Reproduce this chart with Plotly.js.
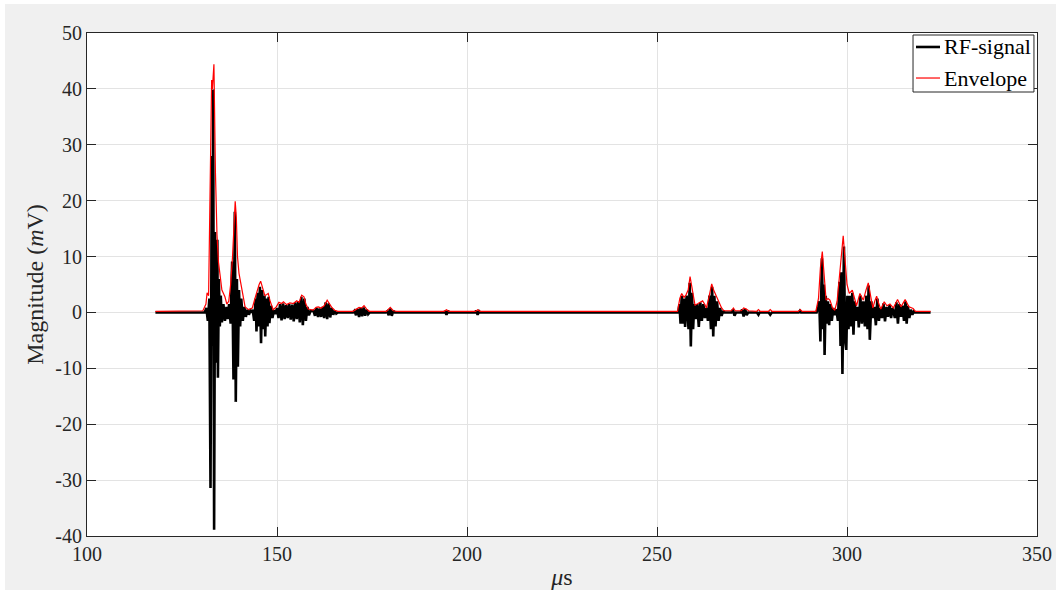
<!DOCTYPE html>
<html>
<head>
<meta charset="utf-8">
<script src="https://cdn.plot.ly/plotly-3.0.1.min.js"></script>
<style>
html,body{margin:0;padding:0;background:#ffffff;}
#chart{position:absolute;left:5px;top:4px;width:1051px;height:586px;}
</style>
</head>
<body>
<div id="chart"></div>
<script>
// ---- data ----
const rfTime = [
118,131.0,131.4,131.8,132.2,132.5,132.85,133.05,133.2,133.45,133.7,133.85,134.0,134.2,134.3,134.45,134.7,134.95,135.2,135.5,135.9,136.3,136.7,137.0,137.4,137.8,138.2,138.55,138.9,139.15,139.45,139.7,140.0,140.3,140.6,141.0,141.4,141.8,142.2,142.6,143.0,143.4,
143.6,144.0,144.4,144.6,144.9,145.2,145.5,145.8,146.1,146.4,146.7,146.9,147.2,147.5,147.8,148.0,148.4,148.8,149.2,149.6,
150.0,150.4,150.8,151.2,151.6,152.0,152.4,152.8,153.2,153.6,154.0,154.4,154.8,155.2,155.6,156.0,156.4,156.8,157.2,157.6,158.0,158.4,158.8,
159.6,160.0,160.4,160.8,161.2,161.6,162.0,162.4,162.8,163.2,163.6,164.0,164.4,164.8,165.2,165.6,166.0,
170.0,170.4,170.8,171.2,171.6,172.0,172.4,172.8,173.2,173.6,174.0,174.4,
178.6,179.0,179.4,179.8,180.2,180.6,181.0,
194.0,194.2,194.6,195.0,195.3,
202.1,202.4,202.8,203.2,203.5,
255.3,255.6,255.9,256.2,256.5,256.8,257.1,257.4,257.8,258.3,258.6,258.9,259.2,259.5,259.8,260.2,260.6,261.0,261.4,261.8,262.2,262.6,263.0,263.4,263.8,264.2,264.5,264.8,265.1,265.4,265.8,266.2,266.6,267.0,267.4,267.8,
269.6,270.0,270.4,270.8,
272.0,272.4,272.8,273.2,273.6,274.0,
276.3,276.7,277.0,
279.4,279.8,280.2,
287.3,287.6,287.9,
292.0,292.4,292.7,293.0,293.4,293.7,293.9,294.1,294.4,294.7,295.0,295.3,295.6,296.0,296.4,296.8,297.2,297.6,298.0,298.3,298.5,298.8,299.2,299.5,299.8,300.1,300.4,300.7,301.0,301.4,301.7,302.0,302.4,302.8,303.1,303.5,303.9,304.3,304.7,305.1,305.4,305.7,306.0,306.4,306.8,307.2,307.6,308.0,308.4,308.8,309.2,309.6,310.0,310.4,310.8,311.2,311.6,312.0,312.6,313.0,313.4,313.8,314.2,314.6,315.0,315.4,315.7,316.0,316.4,316.8,317.2,317.6,318.0,
322.0
];
const rfMag = [
0,0,0.8,-1.5,2.5,-31.4,28,-6,39.9,-38.9,14.4,-9,12,-8,13,-11.7,6,-2.5,3,-1.8,1.5,-1.5,1,-1.2,1.5,-2,9.1,-12,18.0,-16.0,6,-9.7,4,-2.5,2.5,-1.5,1,-0.8,0.5,-0.4,0.3,0,
0.5,-1.5,2.5,-3.4,3.5,-2.5,4.6,-5.5,4,-3,3,-4.3,2.5,-2.5,2.8,-1.9,1.2,-1,0.4,-0.3,
0.8,-1,1.5,-1.4,1.6,-1.2,1.3,-1.0,1.5,-1.3,1.4,-1.6,1.8,-1.2,2.0,-1.8,2.8,-2.3,2.5,-1.5,1,-0.5,0.2,
0.3,-0.6,0.8,-0.8,0.7,-0.8,1.0,-1.0,1.8,-1.2,1.6,-0.9,0.8,-0.4,0.3,-0.2,0,
0,0.3,-0.5,0.6,-0.8,0.8,-0.7,0.9,-0.6,0.5,-0.3,0,
0,0.2,-0.5,0.7,-0.6,0.3,0,
0,0.2,-0.4,0.3,0,
0,0.3,-0.4,0.2,0,
0,0,1.5,-2,3.0,-2,2.5,-2.6,3,-3,5.3,-6.1,3.5,-3,1.5,-1.2,1.5,-2.6,1.8,-1.5,1.5,-1.0,0.8,-1.5,3.0,-3,4.6,-4.3,3,-2.5,2,-1.5,0.8,-0.6,0.3,0,
0,0.5,-0.6,0,
0,0.5,-0.7,0.6,-0.5,0,
0,-0.4,0,
0,-0.4,0,
0,0.3,0,
0,1,2,-5.2,9.7,-3,5,-7.6,3,-2,2,-2.3,1.5,-1.5,0.8,-0.5,0.6,-1.5,5.5,-6,7.2,-11.0,11.8,-5,-6.7,3,-3,3,-2.5,3.5,-4.0,2,-1.5,1,-2.7,3,-2,2,-2.5,3,-3,4.8,-4.9,2,-1,1,-2.3,2.5,-1.5,0.8,-1,1.6,-1.6,1,-0.8,1.3,-1,0.8,-1,1.8,-2.0,1.5,-0.8,1.2,-1.5,2.0,-2.0,1.2,-1,0.5,-0.4,0.2,0,
0
];
const envTime = [
118,130.5,131.3,131.6,132.0,132.4,132.8,133.0,133.4,133.8,134.2,134.6,134.9,135.5,136.3,136.8,137.3,137.8,138.3,138.7,139.0,139.3,139.6,140.0,140.3,141.0,141.6,142.5,
143.5,144.2,144.8,145.3,145.7,146.2,146.8,147.3,147.7,148.2,149.0,
149.8,150.5,151.2,151.7,152.5,153.4,154.3,155.2,155.8,156.5,157.1,157.6,158.2,
159.5,160.3,160.9,161.6,162.4,163.2,163.8,164.4,165.2,166.0,
170.0,170.8,171.6,172.3,172.9,173.6,174.3,
178.8,179.8,180.6,181.5,
194.0,194.6,195.2,202.3,202.8,203.4,
255.4,256.0,256.5,257.1,257.6,258.2,258.7,259.2,259.6,260.0,260.8,262.0,262.6,263.0,263.6,264.0,264.4,264.9,265.6,266.3,267.0,267.6,
269.6,270.1,270.6,272.2,272.8,273.5,274.1,276.2,276.7,277.2,279.3,279.8,280.3,287.2,287.7,288.2,
291.8,292.5,293.0,293.5,294.0,294.5,295.0,295.5,296.2,296.8,297.4,298.0,298.5,299.0,299.5,300.0,300.6,301.4,302.0,302.5,303.4,304.3,305.0,305.6,306.2,306.8,307.3,307.8,308.4,308.9,309.8,310.5,311.3,312.2,313.3,314.2,315.3,316.3,317.4,318.0,
322.0
];
const envMag = [
0.2,0.3,1.5,3.5,3,20,41.6,40,44.4,25,14,9,7,4,2.8,1.5,2,5,10,17,19.9,17,10,7,5.8,3,1,0.5,
0.8,2.5,4,5,5.6,4.5,3,3.2,3.4,2,0.5,
1,1.8,1.6,1.9,1.4,1.7,1.6,2.1,1.8,3.1,2.8,1.5,0.6,
0.4,0.9,1.0,0.8,1.2,2.2,1.5,0.9,0.4,0.2,
0.2,0.6,0.9,0.8,1.2,0.6,0.2,
0.2,0.9,0.3,0.2,
0.2,0.5,0.2,0.2,0.5,0.2,
0.2,2.5,3.4,2.7,3.1,4,6.4,4.5,2.5,1.3,1.6,2.1,1.4,0.8,2.5,4,5.1,4,3,1.8,0.8,0.3,
0.3,0.8,0.3,0.3,0.8,0.6,0.3,0.2,0.5,0.2,0.2,0.5,0.2,0.2,0.5,0.2,
0.2,2.5,8,10.9,6,2.2,2.5,2.2,0.8,0.4,2,5.8,10,13.7,9,5,3.4,4,2.5,1.2,3.4,2.2,4,5.3,3,0.8,2,2.9,1.5,0.6,1.9,1.2,1.5,0.8,2.3,1,2.3,1,0.7,0.2,
0.2
];
const seriesNames = ['RF-signal', 'Envelope'];
const xTickVals = [100,150,200,250,300,350];
const xTickText = ['100','150','200','250','300','350'];
const yTickVals = [-40,-30,-20,-10,0,10,20,30,40,50];
const yTickText = ['-40','-30','-20','-10','0','10','20','30','40','50'];

const serif = '"Liberation Serif", serif';
const axisCol = '#262626';
const rfStyle = {color: '#000000', width: 2.6};
const envStyle = {color: '#ff0000', width: 1.2};

const traces = [
  {x: rfTime, y: rfMag, type: 'scatter', mode: 'lines', name: seriesNames[0], line: rfStyle},
  {x: envTime, y: envMag, type: 'scatter', mode: 'lines', name: seriesNames[1], line: envStyle}
];

const axisCommon = {
  showline: true, linecolor: axisCol, linewidth: 1, mirror: 'ticks',
  ticks: 'inside', ticklen: 9, tickwidth: 1, tickcolor: axisCol,
  showgrid: true, gridcolor: '#e3e3e3', gridwidth: 1, zeroline: false,
  tickfont: {family: serif, size: 20, color: axisCol}
};

// legend box (drawn in paper coordinates of the plot area)
const lg = {x0: 0.8695, x1: 0.9968, y0: 0.8827, y1: 0.996, lx0: 0.8726, lx1: 0.8979, tx: 0.9, ya: 0.9722, yb: 0.9105};

const layout = {
  width: 1051, height: 586,
  paper_bgcolor: '#f0f0f0', plot_bgcolor: '#ffffff',
  margin: {l: 82, r: 19, t: 29, b: 54},
  showlegend: false,
  xaxis: Object.assign({}, axisCommon, {
    range: [100, 350], tickmode: 'array', tickvals: xTickVals, ticktext: xTickText,
    title: {text: '<i>μ</i>s', font: {family: serif, size: 24, color: axisCol}, standoff: 6}
  }),
  yaxis: Object.assign({}, axisCommon, {
    range: [-40, 50], tickmode: 'array', tickvals: yTickVals, ticktext: yTickText,
    title: {text: 'Magnitude (<i>m</i>V)', font: {family: serif, size: 24, color: axisCol}, standoff: 4}
  }),
  shapes: [
    {type: 'rect', xref: 'paper', yref: 'paper', x0: lg.x0, x1: lg.x1, y0: lg.y0, y1: lg.y1,
     line: {color: axisCol, width: 1}, fillcolor: '#ffffff', layer: 'above'},
    {type: 'line', xref: 'paper', yref: 'paper', x0: lg.lx0, x1: lg.lx1, y0: lg.ya, y1: lg.ya,
     line: rfStyle, layer: 'above'},
    {type: 'line', xref: 'paper', yref: 'paper', x0: lg.lx0, x1: lg.lx1, y0: lg.yb, y1: lg.yb,
     line: envStyle, layer: 'above'}
  ],
  annotations: [
    {xref: 'paper', yref: 'paper', x: lg.tx, y: lg.ya, xanchor: 'left', yanchor: 'middle',
     text: seriesNames[0], showarrow: false, font: {family: serif, size: 22, color: '#000'}},
    {xref: 'paper', yref: 'paper', x: lg.tx, y: lg.yb, xanchor: 'left', yanchor: 'middle',
     text: seriesNames[1], showarrow: false, font: {family: serif, size: 22, color: '#000'}}
  ]
};

Plotly.newPlot('chart', traces, layout, {displayModeBar: false, staticPlot: true});
</script>
</body>
</html>
